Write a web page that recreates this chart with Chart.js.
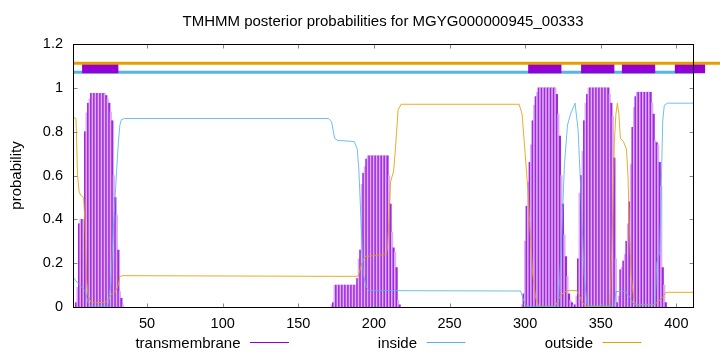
<!DOCTYPE html>
<html>
<head>
<meta charset="utf-8">
<script src="https://cdn.jsdelivr.net/npm/chart.js@4.4.1/dist/chart.umd.min.js"></script>
<style>
  html, body { margin: 0; padding: 0; background: #ffffff; }
</style>
</head>
<body>
<canvas id="tmhmmChart" width="720" height="352"></canvas>
<script>
// per-residue transmembrane probability, one block per helix region
var tmBlockStarts = [3, 172, 298, 333, 362];
var tmBlockValues = [
  [0.02, 0.09, 0.38, 0.40, 0.40, 0.40, 0.80, 0.886, 0.93, 0.95,
   0.975, 0.975, 0.975, 0.975, 0.975, 0.975, 0.975, 0.975, 0.975, 0.975,
   0.965, 0.95, 0.93, 0.89, 0.85, 0.60, 0.50, 0.42, 0.26, 0.07, 0.04, 0.01],
  [0.01, 0.02, 0.10, 0.10, 0.10, 0.10, 0.10, 0.10, 0.10, 0.10, 0.10, 0.10,
   0.10, 0.10, 0.10, 0.10, 0.10, 0.13, 0.22, 0.26, 0.56, 0.61, 0.64, 0.675,
   0.69, 0.69, 0.69, 0.69, 0.69, 0.69, 0.69, 0.69, 0.69, 0.69, 0.69, 0.69,
   0.69, 0.69, 0.60, 0.47, 0.34, 0.27, 0.25, 0.18, 0.03, 0.01],
  [0.01, 0.06, 0.30, 0.46, 0.57, 0.66, 0.74, 0.85, 0.92, 0.96, 0.98,
   1.0, 1.0, 1.0, 1.0, 1.0, 1.0, 1.0, 1.0, 1.0, 1.0, 1.0, 1.0,
   0.97, 0.88, 0.78, 0.60, 0.47, 0.33, 0.23, 0.14, 0.06, 0.03, 0.02, 0.01],
  [0.01, 0.05, 0.22, 0.52, 0.60, 0.71, 0.85, 0.93, 0.97,
   1.0, 1.0, 1.0, 1.0, 1.0, 1.0, 1.0, 1.0, 1.0, 1.0, 1.0, 1.0, 1.0, 1.0,
   0.97, 0.93, 0.87, 0.68, 0.22, 0.02],
  [0.05, 0.17, 0.18, 0.21, 0.24, 0.30, 0.38, 0.48, 0.65, 0.82, 0.91, 0.96,
   0.98, 0.98, 0.98, 0.98, 0.98, 0.98, 0.98, 0.98, 0.98, 0.98,
   0.93, 0.88, 0.76, 0.75, 0.74, 0.66, 0.55, 0.18, 0.10, 0.02]
];

// inside probability, read at the residues where the curve bends
var insideX = [1, 4, 7, 9, 11, 13, 24, 26, 27, 28, 29, 30, 31, 32, 33, 35,
  170, 172, 174, 176, 187, 189, 190, 191, 192, 193, 195, 197,
  297, 299, 301, 322, 324, 326, 328, 330, 333, 335, 337, 339, 341,
  359, 360, 366, 369, 372, 386, 387, 389, 390, 391, 392, 394, 411];
var insideY = [0.137, 0.11, 0.09, 0.075, 0.02, 0.005, 0.005, 0.1, 0.25, 0.4, 0.52, 0.64, 0.75, 0.83, 0.855, 0.86,
  0.86, 0.845, 0.77, 0.76, 0.755, 0.72, 0.63, 0.47, 0.3, 0.15, 0.09, 0.075,
  0.073, 0.03, 0.003, 0.003, 0.3, 0.65, 0.83, 0.88, 0.93, 0.81, 0.5, 0.15, 0.005,
  0.005, 0.07, 0.073, 0.045, 0.012, 0.012, 0.2, 0.25, 0.55, 0.85, 0.92, 0.93, 0.93];

// outside probability
var outsideX = [1, 3, 4, 5, 6, 8, 9, 10, 11, 13, 22, 24, 26, 29, 31, 32, 34,
  172, 189, 190, 192, 194, 208, 209, 210, 211, 213, 214, 215, 216, 218,
  296, 298, 300, 302, 303, 305, 307, 309, 320, 322, 325, 328, 334, 336, 338, 340,
  356, 357, 358, 359, 360, 361, 362, 363, 365, 367, 368, 369, 370, 372, 373,
  385, 388, 391, 393, 411];
var outsideY = [0.865, 0.86, 0.6, 0.53, 0.51, 0.5, 0.38, 0.12, 0.05, 0.02, 0.02, 0.03, 0.055, 0.07, 0.1, 0.14, 0.143,
  0.14, 0.14, 0.15, 0.2, 0.23, 0.24, 0.27, 0.4, 0.57, 0.62, 0.7, 0.8, 0.9, 0.925,
  0.925, 0.88, 0.7, 0.52, 0.38, 0.15, 0.04, 0.003, 0.003, 0.035, 0.065, 0.075, 0.075, 0.05, 0.02, 0.003,
  0.003, 0.2, 0.45, 0.75, 0.88, 0.93, 0.88, 0.77, 0.755, 0.72, 0.6, 0.35, 0.15, 0.03, 0.01,
  0.01, 0.025, 0.045, 0.067, 0.067];

// predicted topology strip above the plot
var tmSegStart = [7, 302, 337, 364, 399];
var tmSegEnd = [31, 324, 359, 386, 419];
var seqFirst = 1;
var seqLast = 411;

var xTicks = [50, 100, 150, 200, 250, 300, 350, 400];
var yTicks = [0, 0.2, 0.4, 0.6, 0.8, 1, 1.2];

var legendNames = ['transmembrane', 'inside', 'outside'];

var purple = '#9400d3';
var purpleDark = '#a228e0';
var purpleLight = '#dcaef4';
var blue = '#56b4e9';
var orange = '#e69f00';

var tmData = [];
tmBlockStarts.forEach(function (start, b) {
  tmBlockValues[b].forEach(function (v, i) {
    tmData.push({ x: start + i, y: v });
  });
});

function toPoints(xs, ys) {
  return xs.map(function (x, i) { return { x: x, y: ys[i] }; });
}

var segData = [];
tmSegStart.forEach(function (s, i) {
  segData.push({ x: s, y: 1.0905 });
  segData.push({ x: tmSegEnd[i], y: 1.0905 });
  segData.push({ x: tmSegEnd[i], y: null });
});

var fontFamily = '"Liberation Sans", Arial, sans-serif';
Chart.defaults.font.family = fontFamily;
Chart.defaults.color = '#000000';

var frameAndTicks = {
  id: 'frameAndTicks',
  afterDraw: function (chart) {
    var ctx = chart.ctx;
    var a = chart.chartArea;
    var xs = chart.scales.x, ys = chart.scales.y;
    var L = Math.round(a.left) + 0.5, R = Math.round(a.right) + 0.5;
    var T = Math.round(a.top) + 0.5, B = Math.round(a.bottom) + 0.5;
    ctx.save();
    ctx.strokeStyle = '#888888';
    ctx.lineWidth = 1;
    ctx.beginPath();
    xTicks.forEach(function (v) {
      var px = Math.round(xs.getPixelForValue(v)) + 0.5;
      ctx.moveTo(px, B); ctx.lineTo(px, B - 4);
      ctx.moveTo(px, T); ctx.lineTo(px, T + 4);
    });
    yTicks.forEach(function (v) {
      var py = Math.round(ys.getPixelForValue(v)) + 0.5;
      ctx.moveTo(L, py); ctx.lineTo(L + 4, py);
      ctx.moveTo(R, py); ctx.lineTo(R - 4, py);
    });
    ctx.stroke();
    ctx.strokeStyle = '#000000';
    ctx.strokeRect(L, T, R - L, B - T);

    // key below the axis, gnuplot style: text then line sample
    var lineStarts = [250, 426.5, 602.5];
    var colors = [purple, blue, orange];
    ctx.font = '15px ' + fontFamily;
    ctx.fillStyle = '#000000';
    ctx.textAlign = 'right';
    ctx.textBaseline = 'alphabetic';
    legendNames.forEach(function (name, i) {
      ctx.fillText(name, lineStarts[i] - 9.5, 348);
      ctx.strokeStyle = colors[i];
      ctx.beginPath();
      ctx.moveTo(lineStarts[i], 342.5);
      ctx.lineTo(lineStarts[i] + 39, 342.5);
      ctx.stroke();
    });
    ctx.restore();
  }
};

new Chart(document.getElementById('tmhmmChart').getContext('2d'), {
  type: 'bar',
  data: {
    datasets: [
      {
        type: 'line',
        label: 'outside strip',
        data: [{ x: seqFirst, y: 1.112 }, { x: 440, y: 1.112 }],
        borderColor: orange,
        borderWidth: 3,
        pointRadius: 0,
        clip: false,
        order: 0
      },
      {
        type: 'line',
        label: 'tm strip',
        data: segData,
        borderColor: purple,
        borderWidth: 10.5,
        borderCapStyle: 'butt',
        pointRadius: 0,
        spanGaps: false,
        clip: false,
        order: 1
      },
      {
        type: 'line',
        label: 'inside strip',
        data: [{ x: seqFirst, y: 1.071 }, { x: seqLast, y: 1.071 }],
        borderColor: blue,
        borderWidth: 3,
        pointRadius: 0,
        order: 2
      },
      {
        type: 'line',
        label: 'inside',
        data: toPoints(insideX, insideY),
        borderColor: 'rgba(86, 180, 233, 0.85)',
        borderWidth: 1,
        pointRadius: 0,
        tension: 0,
        order: 3
      },
      {
        type: 'line',
        label: 'outside',
        data: toPoints(outsideX, outsideY),
        borderColor: 'rgba(230, 159, 0, 0.85)',
        borderWidth: 1,
        pointRadius: 0,
        tension: 0,
        order: 3
      },
      {
        type: 'bar',
        label: 'transmembrane',
        data: tmData,
        backgroundColor: function (c) {
          return c.raw && c.raw.x % 2 ? purpleDark : purpleLight;
        },
        borderWidth: 0,
        barPercentage: 1,
        categoryPercentage: 1,
        grouped: false,
        order: 4
      }
    ]
  },
  options: {
    responsive: false,
    animation: false,
    layout: { padding: { left: 0, right: 27, top: 0, bottom: 0 } },
    plugins: {
      legend: { display: false },
      tooltip: { enabled: false },
      title: {
        display: true,
        text: 'TMHMM posterior probabilities for MGYG000000945_00333',
        fullSize: false,
        font: { size: 15, weight: 'normal' },
        color: '#000000',
        padding: { top: 12.5, bottom: 13.5 }
      }
    },
    scales: {
      x: {
        type: 'linear',
        min: seqFirst,
        max: seqLast,
        offset: false,
        grid: { display: false, drawTicks: false },
        border: { display: false },
        afterBuildTicks: function (s) {
          s.ticks = xTicks.map(function (v) { return { value: v }; });
        },
        afterFit: function (s) { s.height = 45; },
        ticks: {
          font: { size: 14.5 },
          color: '#000000',
          padding: 8,
          maxRotation: 0,
          callback: function (v) { return String(v); }
        }
      },
      y: {
        min: 0,
        max: 1.2,
        grid: { display: false, drawTicks: false },
        border: { display: false },
        afterBuildTicks: function (s) {
          s.ticks = yTicks.map(function (v) { return { value: v }; });
        },
        afterFit: function (s) { s.width = 73; },
        ticks: {
          font: { size: 14.5 },
          color: '#000000',
          padding: 10,
          callback: function (v) { return String(v); }
        },
        title: {
          display: true,
          text: 'probability',
          font: { size: 15 },
          color: '#000000',
          padding: { top: 8, bottom: 0 }
        }
      }
    }
  },
  plugins: [frameAndTicks]
});
</script>
</body>
</html>
